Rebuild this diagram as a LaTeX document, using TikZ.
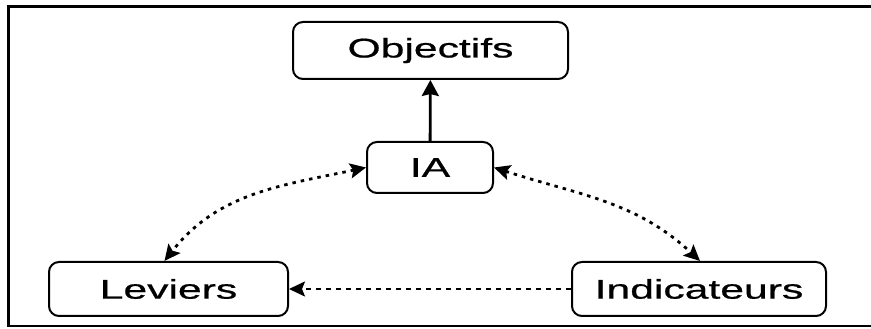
\documentclass[tikz,border=0pt]{standalone}
\usepackage{fontspec}
\setmainfont{Liberation Sans}
\newfontfamily\boxfont[FakeStretch=1.58,FakeBold=0.7]{Liberation Sans}
\usetikzlibrary{arrows.meta}
\tikzset{
  box/.style={draw,line width=2pt,rounded corners=10pt,inner sep=0pt,
    font=\boxfont\fontsize{27}{30}\selectfont},
  dotlink/.style={line width=2.8pt,dash pattern=on 3.5pt off 5pt,{Stealth[length=16pt,width=15pt,inset=3pt]}-{Stealth[length=16pt,width=15pt,inset=3pt]}},
}
\begin{document}
\begin{tikzpicture}[x=1pt,y=1pt]
\useasboundingbox (0,0) rectangle (871,329);
% frame, open on the right
\draw[line width=2.2pt] (871,322.5) -- (8.5,322.5) -- (8.5,3) -- (871,3);
\node[box,minimum width=275pt,minimum height=57pt] (obj) at (430.5,278.5) {Objectifs};
\node[box,minimum width=126pt,minimum height=51pt] (ia) at (430,161.5) {IA};
\node[box,minimum width=239pt,minimum height=54pt] (lev) at (168.5,40) {Leviers};
\node[box,minimum width=254pt,minimum height=54pt] (ind) at (699,40) {Indicateurs};
\draw[line width=2.8pt,-{Stealth[length=16pt,width=17pt,inset=2pt]}] (ia) -- (obj);
\draw[dotlink] (ia.west) to[out=192,in=52] ([xshift=-4pt]lev.north);
\draw[dotlink] (ia.east) to[out=342,in=137] ([xshift=1pt]ind.north);
\draw[line width=2pt,dash pattern=on 5pt off 5pt,-{Stealth[length=16pt,width=15pt,inset=3pt]}] (ind) -- (lev);
\end{tikzpicture}
\end{document}
